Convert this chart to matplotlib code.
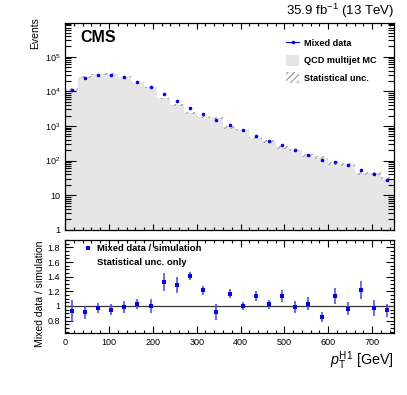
import matplotlib
matplotlib.use('Agg')
import matplotlib.pyplot as plt
import matplotlib.ticker as ticker
from matplotlib.lines import Line2D
from matplotlib.patches import Patch
import numpy as np

plt.rcParams['font.family'] = ['Liberation Sans', 'DejaVu Sans']
plt.rcParams['mathtext.fontset'] = 'custom'
plt.rcParams['mathtext.rm'] = 'Liberation Sans'
plt.rcParams['mathtext.it'] = 'Liberation Sans:italic'
plt.rcParams['mathtext.bf'] = 'Liberation Sans:bold'
plt.rcParams['hatch.linewidth'] = 0.8

# %%
# data
bin_width = 30
pt_centers = np.arange(15, 750, bin_width)
data_events = [11200, 24000, 30000, 30000, 26500, 18600, 13000, 8300, 5200,
               3400, 2250, 1540, 1060, 760, 525, 365, 275, 200, 144, 103,
               93, 76, 52, 41.5, 28.5]
mc_events = [11980, 26290, 30990, 31580, 26770, 18060, 13000, 6250, 4050,
             2410, 1850, 1690, 910, 760, 460, 358, 241, 202, 140, 121,
             82, 79, 43, 43, 30]
mc_unc_rel = [0.06, 0.05, 0.05, 0.05, 0.05, 0.05, 0.06, 0.06, 0.07, 0.07,
              0.07, 0.08, 0.08, 0.08, 0.08, 0.08, 0.09, 0.09, 0.09, 0.09,
              0.10, 0.10, 0.10, 0.10, 0.10]
ratio = [0.935, 0.913, 0.968, 0.95, 0.99, 1.03, 1.0, 1.327, 1.285, 1.41,
         1.216, 0.913, 1.166, 1.0, 1.14, 1.02, 1.14, 0.99, 1.03, 0.85,
         1.14, 0.96, 1.216, 0.97, 0.94]
ratio_err = [0.15, 0.09, 0.07, 0.07, 0.08, 0.07, 0.09, 0.12, 0.11, 0.06,
             0.06, 0.11, 0.06, 0.05, 0.07, 0.06, 0.08, 0.08, 0.09, 0.07,
             0.11, 0.09, 0.12, 0.11, 0.09]

edges = np.append(pt_centers - bin_width / 2, pt_centers[-1] + bin_width / 2)
mc = np.array(mc_events)
unc = np.array(mc_unc_rel)

# %%
fig = plt.figure(figsize=(4.07, 3.95), dpi=100)
ax = fig.add_axes([0.160, 0.418, 0.808, 0.524])
axr = fig.add_axes([0.160, 0.157, 0.808, 0.235])

ax.stairs(mc, edges, fill=True, color='#e6e6e6', linewidth=0)
ax.stairs(mc * (1 + unc), edges, baseline=mc * (1 - unc), fill=True,
          facecolor='none', edgecolor='#999999', hatch='/////', linewidth=0)
ax.plot(pt_centers, data_events, 'o', color='blue', markersize=2.6,
        markeredgewidth=0)

ax.set_yscale('log')
ax.set_xlim(0, 750)
ax.set_ylim(1, 9.5e5)
ax.set_yticks([1, 10, 100, 1e3, 1e4, 1e5])
def fmt(x, pos):
    if x < 5:
        return '1'
    elif x < 50:
        return '10'
    return r'$10^{%d}$' % int(round(np.log10(x)))
ax.yaxis.set_major_formatter(ticker.FuncFormatter(fmt))
ax.yaxis.set_minor_locator(ticker.LogLocator(base=10, subs=np.arange(2, 10)))
ax.yaxis.set_minor_formatter(ticker.NullFormatter())
ax.xaxis.set_major_locator(ticker.MultipleLocator(100))
ax.xaxis.set_minor_locator(ticker.MultipleLocator(20))
ax.tick_params(axis='x', which='both', direction='in', top=True, bottom=True,
               labelbottom=False)
ax.tick_params(axis='x', which='major', length=4.5, width=0.8)
ax.tick_params(axis='x', which='minor', length=2.5, width=0.8)
ax.tick_params(axis='y', which='both', direction='in', left=True, right=True,
               labelsize=6.5)
ax.tick_params(axis='y', which='major', length=8, width=0.8)
ax.tick_params(axis='y', which='minor', length=4, width=0.8)

ax.text(-0.09, 1.03, 'Events', transform=ax.transAxes, rotation=90,
        ha='center', va='top', fontsize=7.5)
ax.text(0.046, 0.965, 'CMS', transform=ax.transAxes, ha='left', va='top',
        fontsize=11.5, fontweight='bold')
ax.text(1.0, 1.015, r'35.9 fb$^{-1}$ (13 TeV)', transform=ax.transAxes,
        ha='right', va='bottom', fontsize=9.5)

handles = [Line2D([], [], color='blue', marker='o', markersize=2.6,
                  markeredgewidth=0, linewidth=0.8),
           Patch(facecolor='#e6e6e6', edgecolor='none'),
           Patch(facecolor='none', edgecolor='#999999', hatch='/////',
                 linewidth=0)]
labels = ['Mixed data', 'QCD multijet MC', 'Statistical unc.']
ax.legend(handles, labels, loc='upper left', bbox_to_anchor=(0.672, 0.93),
          frameon=False, prop={'weight': 'bold', 'size': 6.6},
          handlelength=1.45, handleheight=1.5, handletextpad=0.55,
          labelspacing=0.68, borderpad=0, borderaxespad=0)

# %%
# ratio panel
axr.axhline(1.0, color='#333333', linewidth=0.9)
axr.errorbar(pt_centers, ratio, yerr=ratio_err, fmt='s', color='blue',
             ecolor=(0.25, 0.25, 1.0), elinewidth=1.1, capsize=1.2,
             capthick=0.8, markersize=2.6, markeredgewidth=0)
axr.set_xlim(0, 750)
axr.set_ylim(0.63, 1.9)
axr.xaxis.set_major_locator(ticker.MultipleLocator(100))
axr.xaxis.set_minor_locator(ticker.MultipleLocator(20))
axr.yaxis.set_major_locator(ticker.FixedLocator([0.8, 1.0, 1.2, 1.4, 1.6, 1.8]))
axr.yaxis.set_minor_locator(ticker.MultipleLocator(0.05))
def fmt_r(x, pos):
    if abs(x - 1) < 1e-6:
        return '1'
    return '%.1f' % x
axr.yaxis.set_major_formatter(ticker.FuncFormatter(fmt_r))
axr.tick_params(axis='both', which='both', direction='in', top=True,
                right=True, labelsize=6.5)
axr.tick_params(axis='x', which='major', length=5, width=0.8)
axr.tick_params(axis='x', which='minor', length=2.5, width=0.8)
axr.tick_params(axis='y', which='major', length=6, width=0.8)
axr.tick_params(axis='y', which='minor', length=3, width=0.8)

axr.text(-0.076, 1.0, 'Mixed data / simulation', transform=axr.transAxes,
         rotation=90, ha='center', va='top', fontsize=7.5)
axr.text(1.0, -0.18, r'$p_{\mathrm{T}}^{\mathrm{H1}}$ [GeV]',
         transform=axr.transAxes, ha='right', va='top', fontsize=10.3)

rhandles = [Line2D([], [], color='blue', marker='s', markersize=2.6,
                   markeredgewidth=0, linewidth=0),
            Line2D([], [], linewidth=0)]
rlabels = ['Mixed data / simulation', 'Statistical unc. only']
axr.legend(rhandles, rlabels, loc='upper left', bbox_to_anchor=(0.06, 0.96),
           frameon=False, prop={'weight': 'bold', 'size': 6.8},
           handlelength=0.6, handletextpad=0.7, labelspacing=0.5,
           borderpad=0, borderaxespad=0)

for a in (ax, axr):
    for s in a.spines.values():
        s.set_linewidth(0.9)

fig.savefig('out.png', dpi=100)
